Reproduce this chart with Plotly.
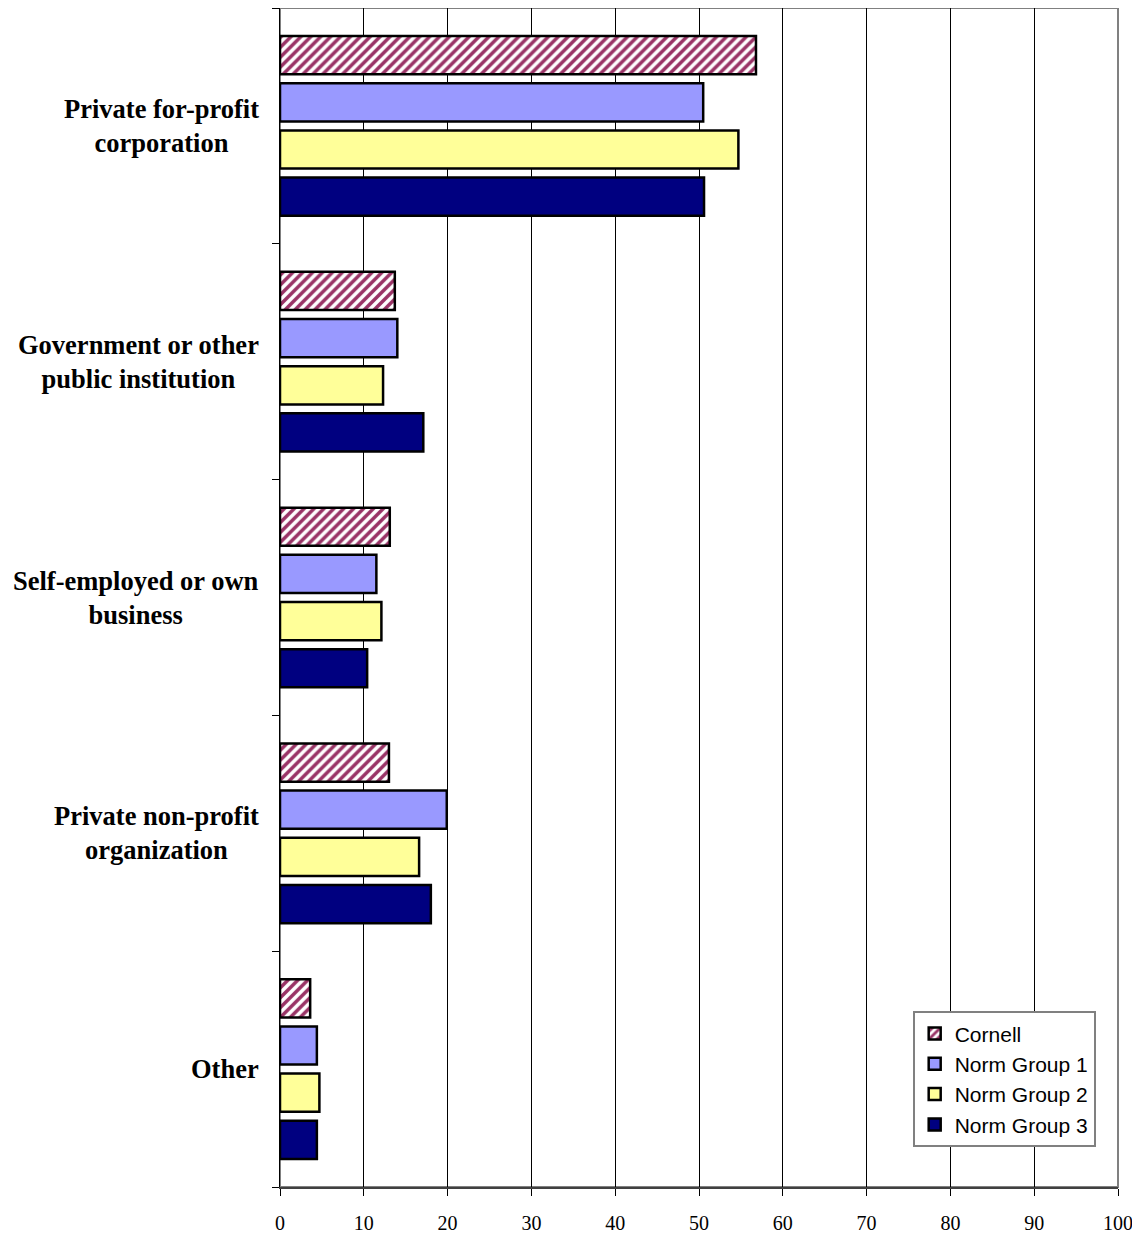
import plotly.graph_objects as go

categories = ["Private for-profit<br>corporation", "Government or other<br>public institution",
              "Self-employed or own<br>business", "Private non-profit<br>organization", "Other"]
cornell = [56.8, 13.7, 13.1, 13.0, 3.6]
norm_group_1 = [50.5, 14.0, 11.5, 19.9, 4.4]
norm_group_2 = [54.7, 12.3, 12.1, 16.6, 4.7]
norm_group_3 = [50.6, 17.1, 10.4, 18.0, 4.4]
x_ticks = [0, 10, 20, 30, 40, 50, 60, 70, 80, 90, 100]

cat_ids = list(range(len(categories)))

fig = go.Figure()

# Cornell bars use the striped fill
fig.add_trace(go.Bar(
    y=cat_ids, x=cornell, orientation="h", name="Cornell",
    marker=dict(color="white", line=dict(color="black", width=2.5),
                pattern=dict(shape="/", fgcolor="#993366", bgcolor="white",
                             size=7, solidity=0.5, fillmode="replace")),
))

series = [
    ("Norm Group 1", norm_group_1, "#9999FF"),
    ("Norm Group 2", norm_group_2, "#FFFF99"),
    ("Norm Group 3", norm_group_3, "#000080"),
]
for name, vals, color in series:
    fig.add_trace(go.Bar(
        y=cat_ids, x=vals, orientation="h", name=name,
        marker=dict(color=color, line=dict(color="black", width=2.5)),
    ))

# category labels, centred text block right-aligned against the axis
for i, label in enumerate(categories):
    fig.add_annotation(
        x=0, xref="paper", y=i, yref="y",
        text=label, showarrow=False, xanchor="right", xshift=-19,
        align="center",
        font=dict(family="Liberation Serif", size=26.5, color="black", weight="bold"),
    )

# grey plot-area frame
fig.add_shape(type="rect", xref="paper", yref="paper", x0=0, x1=1, y0=0, y1=1,
              line=dict(color="#808080", width=2), layer="below")

# page body adds 8px offset, so the figure is 8px smaller and margins shifted
fig.update_layout(
    barmode="group",
    bargap=0.2,
    bargroupgap=0.19,
    width=1132, height=1226,
    margin=dict(l=272, r=22, t=0, b=38),
    plot_bgcolor="white",
    paper_bgcolor="white",
    legend=dict(
        x=0.755, y=0.149, xanchor="left", yanchor="top",
        bgcolor="white", bordercolor="#808080", borderwidth=2,
        font=dict(family="Liberation Sans", size=21, color="black"),
        traceorder="normal", itemwidth=30,
    ),
)

fig.update_xaxes(
    range=[0, 100], tickvals=x_ticks, ticktext=[str(t) for t in x_ticks],
    showgrid=True, gridcolor="black", gridwidth=1,
    showline=True, linecolor="#404040", linewidth=2,
    ticks="outside", ticklen=7, tickcolor="black",
    ticklabelstandoff=10,
    tickfont=dict(family="Liberation Serif", size=20, color="black"),
    zeroline=False,
)

fig.update_yaxes(
    type="category", range=[4.5, -0.5],
    tickvals=cat_ids, showticklabels=False,
    showgrid=False, showline=True, linecolor="black", linewidth=1,
    ticks="outside", ticklen=7, tickcolor="black", tickson="boundaries",
    zeroline=False,
)

fig.write_html("out.html")
